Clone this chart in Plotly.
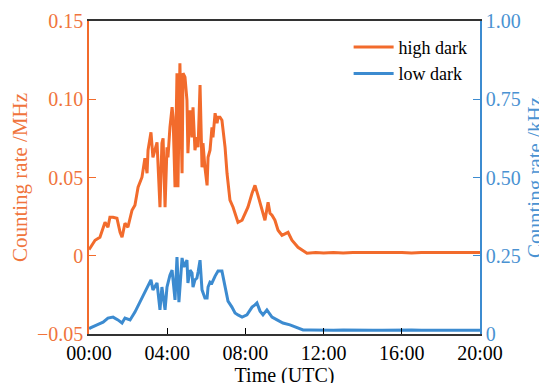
import plotly.graph_objects as go

# ---- data ----
hours_high = [0.00, 0.05, 0.31, 0.56, 0.82, 0.97, 1.07, 1.23, 1.43, 1.59, 1.69, 1.84, 1.99,
              2.20, 2.35, 2.51, 2.71, 2.86, 2.97, 3.02, 3.17, 3.27, 3.48, 3.53, 3.63, 3.73,
              3.79, 3.89, 3.99, 4.04, 4.14, 4.25, 4.30, 4.40, 4.50, 4.55, 4.65, 4.76, 4.81,
              4.91, 5.01, 5.06, 5.17, 5.27, 5.32, 5.42, 5.52, 5.58, 5.68, 5.78, 5.83, 5.93,
              6.04, 6.09, 6.19, 6.29, 6.34, 6.45, 6.55, 6.60, 6.70, 6.80, 6.85, 6.96, 7.06,
              7.11, 7.21, 7.37, 7.47, 7.62, 7.83, 7.98, 8.13, 8.34, 8.49, 8.64, 8.85, 9.00,
              9.16, 9.26, 9.36, 9.51, 9.67, 9.87, 10.18, 10.38, 10.69, 11.15, 11.6, 12.0,
              12.5, 13.0, 13.5, 14.0, 14.5, 15.0, 15.5, 16.0, 16.5, 17.0, 17.5, 18.0, 18.5,
              19.0, 19.5, 20.0]
rate_high = [0.0040, 0.0048, 0.0099, 0.0118, 0.0214, 0.0182, 0.0246, 0.0246, 0.0240, 0.0150,
             0.0118, 0.0208, 0.0182, 0.0291, 0.0323, 0.0438, 0.0502, 0.0623, 0.0527, 0.0674,
             0.0789, 0.0629, 0.0725, 0.0597, 0.0310, 0.0719, 0.0751, 0.0310, 0.0693, 0.0629,
             0.0821, 0.0949, 0.0885, 0.0438, 0.1166, 0.0438, 0.1230, 0.0527, 0.1166, 0.1141,
             0.0994, 0.0655, 0.0930, 0.0757, 0.0949, 0.0674, 0.0757, 0.0693, 0.1090, 0.0565,
             0.0719, 0.0565, 0.0450, 0.0629, 0.0674, 0.0821, 0.0757, 0.0911, 0.0847, 0.0885,
             0.0885, 0.0866, 0.0821, 0.0693, 0.0527, 0.0463, 0.0355, 0.0310, 0.0272, 0.0214,
             0.0227, 0.0272, 0.0310, 0.0399, 0.0450, 0.0387, 0.0291, 0.0227, 0.0342, 0.0272,
             0.0259, 0.0227, 0.0163, 0.0131, 0.0150, 0.0099, 0.0054, 0.0016, 0.0020, 0.0018,
             0.0021, 0.0017, 0.0020, 0.0019, 0.0022, 0.0018, 0.0020, 0.0021, 0.0018, 0.0020,
             0.0019, 0.0022, 0.0018, 0.0020, 0.0021, 0.0020]

hours_low = [0.00, 0.05, 0.41, 0.72, 0.97, 1.23, 1.48, 1.69, 1.84, 2.10, 2.35, 2.61, 2.86,
             3.02, 3.17, 3.27, 3.48, 3.63, 3.73, 3.89, 3.99, 4.14, 4.25, 4.40, 4.50, 4.60,
             4.76, 4.86, 5.01, 5.06, 5.17, 5.27, 5.32, 5.42, 5.52, 5.58, 5.68, 5.78, 5.83,
             5.93, 6.04, 6.09, 6.19, 6.29, 6.45, 6.60, 6.80, 6.96, 7.11, 7.31, 7.47, 7.62,
             7.83, 8.08, 8.34, 8.49, 8.59, 8.75, 8.90, 9.10, 9.36, 9.62, 9.92, 10.28, 10.64,
             10.95, 11.3, 11.7, 12.0, 12.5, 13.0, 13.5, 14.0, 14.5, 15.0, 15.5, 16.0, 16.5,
             17.0, 17.5, 18.0, 18.5, 19.0, 19.5, 20.0]
rate_low = [0.016, 0.019, 0.029, 0.038, 0.051, 0.054, 0.045, 0.035, 0.051, 0.045, 0.070,
            0.102, 0.131, 0.150, 0.173, 0.141, 0.163, 0.077, 0.150, 0.077, 0.150, 0.188,
            0.204, 0.109, 0.246, 0.102, 0.243, 0.214, 0.236, 0.163, 0.204, 0.195, 0.150,
            0.173, 0.179, 0.198, 0.236, 0.141, 0.134, 0.115, 0.115, 0.150, 0.166, 0.163,
            0.185, 0.201, 0.201, 0.150, 0.105, 0.086, 0.067, 0.061, 0.054, 0.061, 0.086,
            0.093, 0.099, 0.073, 0.061, 0.077, 0.054, 0.045, 0.035, 0.029, 0.019, 0.013,
            0.013, 0.012, 0.013, 0.012, 0.013, 0.012, 0.013, 0.012, 0.012, 0.013, 0.012,
            0.013, 0.012, 0.013, 0.012, 0.012, 0.013, 0.012, 0.012]

x_tickvals = [0, 4, 8, 12, 16, 20]
x_ticktext = ["00:00", "04:00", "08:00", "12:00", "16:00", "20:00"]
left_tickvals = [-0.05, 0, 0.05, 0.10, 0.15]
left_ticktext = ["\u22120.05", "0", "0.05", "0.10", "0.15"]
right_tickvals = [0, 0.25, 0.5, 0.75, 1.0]
right_ticktext = ["0", "0.25", "0.50", "0.75", "1.00"]

ORANGE = "#F26B2C"
ORANGE_TXT = "#F0743C"
BLUE = "#3C8BD0"
BLUE_TXT = "#4A92D2"
FONT = "Liberation Serif"

fig = go.Figure()
fig.add_trace(go.Scatter(x=hours_high, y=rate_high, mode="lines", name="high dark",
                         line=dict(color=ORANGE, width=3), yaxis="y"))
fig.add_trace(go.Scatter(x=hours_low, y=rate_low, mode="lines", name="low dark",
                         line=dict(color=BLUE, width=3), yaxis="y2"))

# the page body adds an 8px offset, so margins are set to compensate
fig.update_layout(
    width=547, height=383,
    margin=dict(l=81, r=75, t=13, b=57, autoexpand=False),
    paper_bgcolor="white", plot_bgcolor="white",
    font=dict(family=FONT, size=20, color="black"),
    showlegend=True,
    legend=dict(x=0.664, y=0.975, xanchor="left", yanchor="top",
                bgcolor="rgba(0,0,0,0)", font=dict(family=FONT, size=18, color="black"),
                tracegroupgap=0, itemwidth=40),
    xaxis=dict(range=[0, 20], tickvals=x_tickvals, ticktext=x_ticktext,
               ticks="inside", ticklen=6, tickcolor="black", automargin=False,
               showline=True, linecolor="#333333", linewidth=1.5, mirror=True,
               showgrid=False, zeroline=False,
               title=dict(text="Time (UTC)", standoff=4, font=dict(size=20)),
               tickfont=dict(size=20)),
    yaxis=dict(range=[-0.05, 0.15], tickvals=left_tickvals, ticktext=left_ticktext,
               ticks="inside", ticklen=7, tickcolor=ORANGE, automargin=False,
               showline=True, linecolor=ORANGE, linewidth=1.5,
               showgrid=False, zeroline=False,
               tickfont=dict(size=20, color=ORANGE_TXT),
               title=dict(text="Counting rate /MHz", font=dict(size=21, color=ORANGE_TXT),
                          standoff=8)),
    yaxis2=dict(range=[0, 1], tickvals=right_tickvals, ticktext=right_ticktext,
                overlaying="y", side="right", automargin=False,
                ticks="inside", ticklen=7, tickcolor=BLUE,
                showline=True, linecolor=BLUE, linewidth=1.5,
                showgrid=False, zeroline=False,
                tickfont=dict(size=20, color=BLUE_TXT),
                title=dict(text="Counting rate /kHz", font=dict(size=21, color=BLUE_TXT),
                           standoff=8)),
)

fig.write_html("out.html")
